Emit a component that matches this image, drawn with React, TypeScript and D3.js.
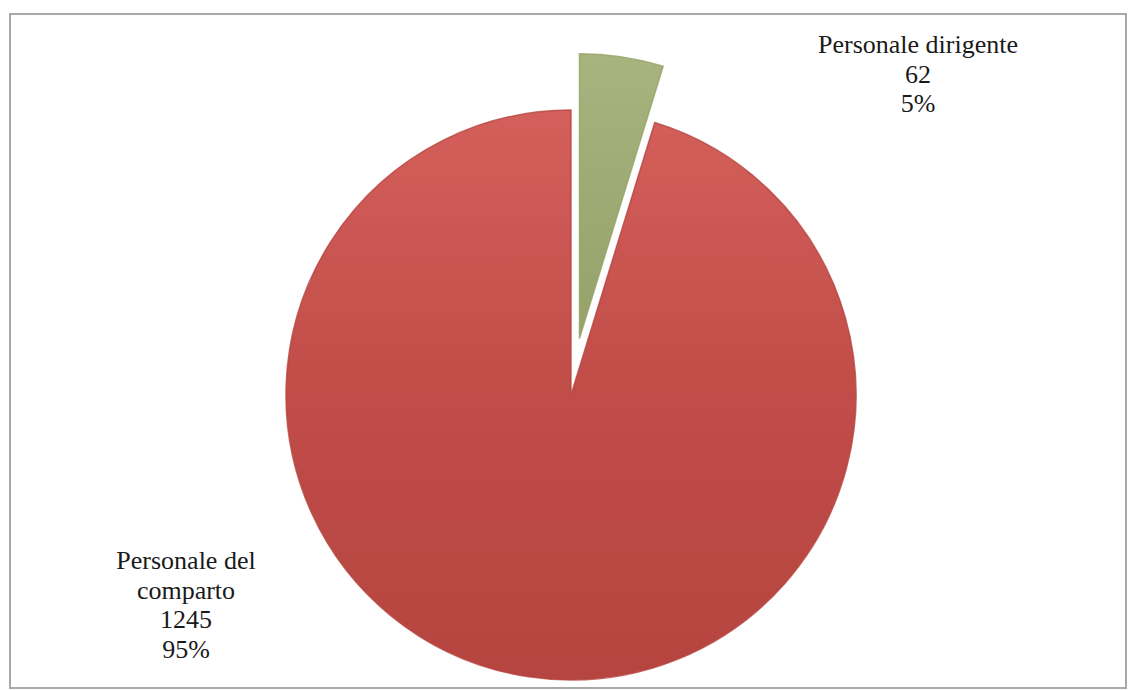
import React from "react";
import * as d3 from "d3";

const categories = ["Personale dirigente", "Personale del comparto"];
const labelLines = [["Personale dirigente"], ["Personale del", "comparto"]];
const values = [62, 1245];
const colors = ["#9fab74", "#c24e4a"];
const colorsLight = ["#a8b47e", "#d45f5b"];
const colorsDark = ["#96a26a", "#b5443f"];
const explode = [57, 0];

const W = 1133;
const H = 690;
const cx = 571;
const cy = 395;
const R = 285;

export default function App() {
  const total = d3.sum(values);
  const pie = d3.pie<number>().sort(null).value((d) => d);
  const arcs = pie(values);
  const arcGen = d3.arc<d3.PieArcDatum<number>>().innerRadius(0).outerRadius(R);

  const labelPos = [
    { x: 918, y: 53 },
    { x: 186, y: 569 },
  ];
  const lineH = 29.5;

  return (
    <svg
      width={W}
      height={H}
      style={{ position: "absolute", left: 0, top: 0, background: "#fff" }}
    >
      <defs>
        {values.map((_, i) => (
          <linearGradient key={i} id={`g${i}`} x1="0" y1="0" x2="0" y2="1">
            <stop offset="0%" stopColor={colorsLight[i]} />
            <stop offset="45%" stopColor={colors[i]} />
            <stop offset="100%" stopColor={colorsDark[i]} />
          </linearGradient>
        ))}
        <filter id="soft" x="-10%" y="-10%" width="120%" height="120%">
          <feGaussianBlur stdDeviation="0.6" />
        </filter>
      </defs>
      <rect x={10} y={14} width={1116} height={674} fill="#fff" stroke="#a8a8a8" strokeWidth={2} />
      {arcs.map((a, i) => {
        const mid = (a.startAngle + a.endAngle) / 2;
        const dx = Math.sin(mid) * explode[i];
        const dy = -Math.cos(mid) * explode[i];
        return (
          <g key={i} transform={`translate(${cx + dx},${cy + dy})`}>
            <path
              d={arcGen(a) || ""}
              fill={`url(#g${i})`}
              stroke={colorsDark[i]}
              strokeOpacity={0.8}
              strokeWidth={1.5}
              filter="url(#soft)"
            />
          </g>
        );
      })}
      {arcs.map((a, i) => {
        const pct = Math.round((values[i] / total) * 100) + "%";
        const lines = [...labelLines[i], String(values[i]), pct];
        return (
          <text
            key={`t${i}`}
            x={labelPos[i].x}
            y={labelPos[i].y}
            textAnchor="middle"
            fontFamily="'Liberation Serif', 'DejaVu Serif', serif"
            fontSize={26}
            fill="#1a1a1a"
            aria-label={categories[i]}
          >
            {lines.map((ln, j) => (
              <tspan key={j} x={labelPos[i].x} y={labelPos[i].y + j * lineH}>
                {ln}
              </tspan>
            ))}
          </text>
        );
      })}
    </svg>
  );
}
